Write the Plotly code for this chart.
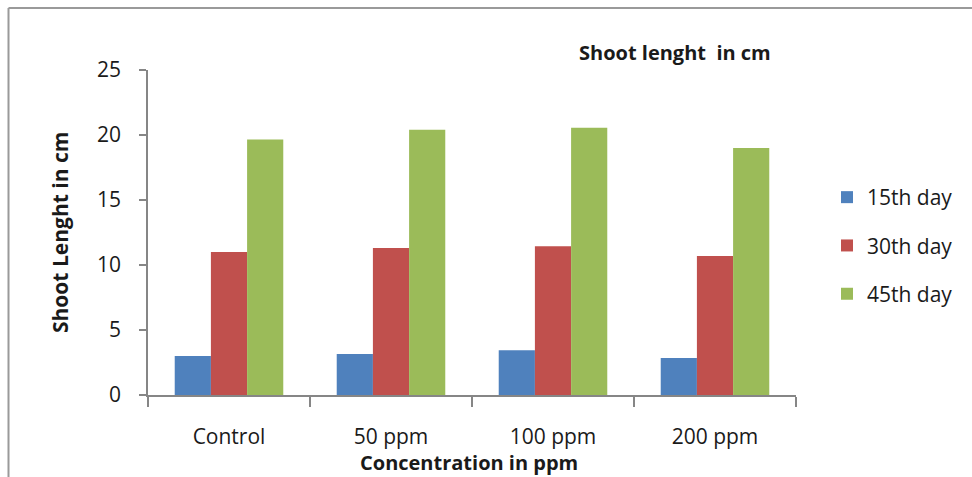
import plotly.graph_objects as go

categories = ["Control", "50 ppm", "100 ppm", "200 ppm"]
series_names = ["15th day", "30th day", "45th day"]
day15 = [3.0, 3.15, 3.45, 2.85]
day30 = [11.0, 11.3, 11.45, 10.7]
day45 = [19.65, 20.4, 20.55, 19.0]
colors = ["#4F81BD", "#C0504D", "#9BBB59"]
y_ticks = [0, 5, 10, 15, 20, 25]

FONT = "Open Sans"
W, H = 972, 477
L, R, T, B = 148, 176, 70, 82
pw, ph = W - L - R, H - T - B

def px_x(x):
    return (x - L) / pw

def px_y(y):
    return (H - B - y) / ph

fig = go.Figure()
for i, (name, vals) in enumerate(zip(series_names, [day15, day30, day45])):
    fig.add_trace(go.Bar(
        x=categories, y=vals, name=name,
        marker=dict(color=colors[i], line=dict(width=0)),
        legendgroup=name,
    ))

fig.update_layout(
    width=W, height=H,
    margin=dict(l=L, r=R, t=T, b=B, pad=0),
    paper_bgcolor="white", plot_bgcolor="white",
    barmode="group", bargap=0.33, bargroupgap=0,
    font=dict(family=FONT, size=18, color="#1a1a1a"),
    showlegend=True,
    legend=dict(
        x=px_x(827), y=px_y(177), xanchor="left", yanchor="top",
        font=dict(family=FONT, size=21, color="#1a1a1a"),
        traceorder="grouped", tracegroupgap=18, itemwidth=30,
        bgcolor="rgba(0,0,0,0)",
    ),
    xaxis=dict(
        showline=True, linecolor="#868686", linewidth=1.5,
        ticks="outside", tickson="boundaries", ticklen=10, tickcolor="#868686",
        tickwidth=1.5, showgrid=False, zeroline=False,
        tickfont=dict(family=FONT, size=21, color="#1a1a1a"),
        ticklabelstandoff=22,
    ),
    yaxis=dict(
        range=[0, 25], tickvals=y_ticks,
        showline=True, linecolor="#868686", linewidth=1.5,
        ticks="outside", ticklen=7, tickcolor="#868686", tickwidth=1.5,
        showgrid=False, zeroline=False,
        tickfont=dict(family=FONT, size=21, color="#1a1a1a"),
        ticklabelstandoff=14,
    ),
    shapes=[
        dict(type="line", xref="paper", yref="paper",
             x0=px_x(8.5), x1=px_x(990), y0=px_y(8), y1=px_y(8),
             line=dict(color="#9a9a9a", width=2)),
        dict(type="line", xref="paper", yref="paper",
             x0=px_x(8.5), x1=px_x(8.5), y0=px_y(8), y1=px_y(490),
             line=dict(color="#9a9a9a", width=2)),
    ],
    annotations=[
        dict(text="<b>Shoot lenght  in cm</b>", xref="paper", yref="paper",
             x=px_x(675), y=px_y(53), xanchor="center", yanchor="middle",
             showarrow=False, font=dict(family=FONT, size=20, color="#1a1a1a")),
        dict(text="<b>Concentration in ppm</b>", xref="paper", yref="paper",
             x=px_x(469), y=px_y(462), xanchor="center", yanchor="middle",
             showarrow=False, font=dict(family=FONT, size=20, color="#1a1a1a")),
        dict(text="<b>Shoot Lenght in cm</b>", xref="paper", yref="paper",
             x=px_x(60), y=px_y(233), xanchor="center", yanchor="middle",
             textangle=-90, showarrow=False,
             font=dict(family=FONT, size=21, color="#1a1a1a")),
    ],
)

fig.write_html("out.html")
